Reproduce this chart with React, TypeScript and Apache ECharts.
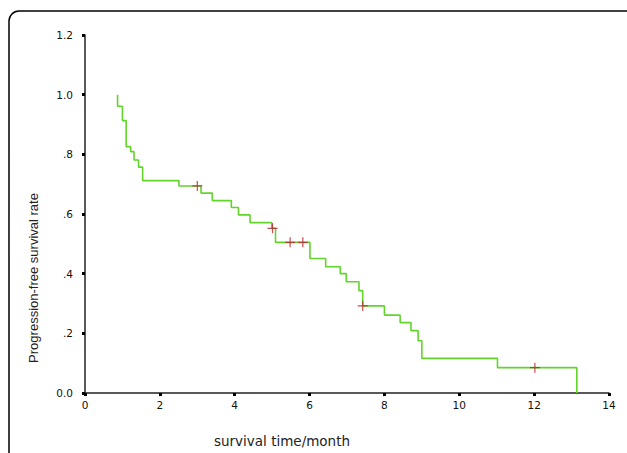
import React, { useEffect, useRef } from "react";
import * as echarts from "echarts";

// Kaplan-Meier step points: event time (months) and survival after the event
const eventTimes = [0.87, 0.87, 1.0, 1.1, 1.22, 1.31, 1.43, 1.54, 2.51, 3.1, 3.4, 3.91, 4.1, 4.41, 4.99, 5.09, 6.01, 6.43, 6.82, 6.98, 7.32, 7.42, 8.0, 8.42, 8.71, 8.9, 9.0, 11.02, 13.14];
const survival = [1.0, 0.961, 0.913, 0.826, 0.809, 0.781, 0.757, 0.712, 0.694, 0.67, 0.645, 0.622, 0.597, 0.571, 0.552, 0.505, 0.451, 0.423, 0.4, 0.373, 0.343, 0.292, 0.261, 0.236, 0.209, 0.175, 0.116, 0.085, 0.0];

// Censored observations
const censorTimes = [3.0, 5.01, 5.48, 5.82, 7.42, 12.02];
const censorSurvival = [0.694, 0.552, 0.505, 0.505, 0.292, 0.085];

const xTicks = [0, 2, 4, 6, 8, 10, 12, 14];
const yTickLabels: Record<string, string> = { "0": "0.0", "0.2": ".2", "0.4": ".4", "0.6": ".6", "0.8": ".8", "1": "1.0", "1.2": "1.2" };

const xAxisTitle = "survival time/month";
const yAxisTitle = "Progression-free survival rate";

export default function App() {
  const ref = useRef<HTMLDivElement>(null);
  useEffect(() => {
    if (!ref.current) return;
    const chart = echarts.init(ref.current, null, { renderer: "svg" });
    const axisColor = "#222";
    chart.setOption({
      animation: false,
      backgroundColor: "#ffffff",
      grid: { left: 85, top: 35, right: 18, bottom: 60, containLabel: false },
      xAxis: {
        type: "value",
        min: xTicks[0],
        max: xTicks[xTicks.length - 1],
        interval: 2,
        axisLine: { lineStyle: { color: axisColor, width: 1.5 } },
        axisTick: { show: true, length: 3, lineStyle: { color: "#000", width: 3 } },
        splitLine: { show: false },
        axisLabel: { color: "#111", fontFamily: "DejaVu Sans", fontSize: 10.5, margin: 6 },
      },
      yAxis: {
        type: "value",
        min: 0,
        max: 1.2,
        interval: 0.2,
        axisLine: { show: true, lineStyle: { color: axisColor, width: 1.5 } },
        axisTick: { show: true, length: 3, lineStyle: { color: "#000", width: 3 } },
        splitLine: { show: false },
        axisLabel: {
          color: "#111",
          fontFamily: "DejaVu Sans",
          fontSize: 10.5,
          margin: 12,
          formatter: (v: number) => yTickLabels[String(Math.round(v * 10) / 10)] ?? String(v),
        },
      },
      graphic: [
        {
          type: "rect",
          shape: { x: 9, y: 11, width: 640, height: 470, r: 10 },
          style: { fill: "none", stroke: "#000", lineWidth: 1.5 },
          silent: true,
        },
        {
          type: "text",
          x: 33,
          y: 278,
          rotation: Math.PI / 2,
          style: {
            text: yAxisTitle,
            fill: "#222",
            font: "13px 'Liberation Sans'",
            align: "center",
            verticalAlign: "middle",
          },
        },
        {
          type: "text",
          x: 282,
          y: 441,
          style: {
            text: xAxisTitle,
            fill: "#222",
            font: "13.5px 'DejaVu Sans'",
            align: "center",
            verticalAlign: "middle",
          },
        },
      ],
      series: [
        {
          type: "line",
          step: "end",
          data: eventTimes.map((t, i) => [t, survival[i]]),
          showSymbol: false,
          symbol: "none",
          lineStyle: { color: "#62d42c", width: 1.6 },
          z: 2,
        },
        {
          type: "scatter",
          data: censorTimes.map((t, i) => [t, censorSurvival[i]]),
          symbol: "path://M0,4.4h10v1.2h-10z M4.4,0h1.2v10h-1.2z",
          symbolSize: 10,
          itemStyle: { color: "#b5202e" },
          z: 3,
        },
      ],
    });
    return () => chart.dispose();
  }, []);
  return <div ref={ref} style={{ width: 627, height: 453, position: "absolute", left: 0, top: 0 }} />;
}
